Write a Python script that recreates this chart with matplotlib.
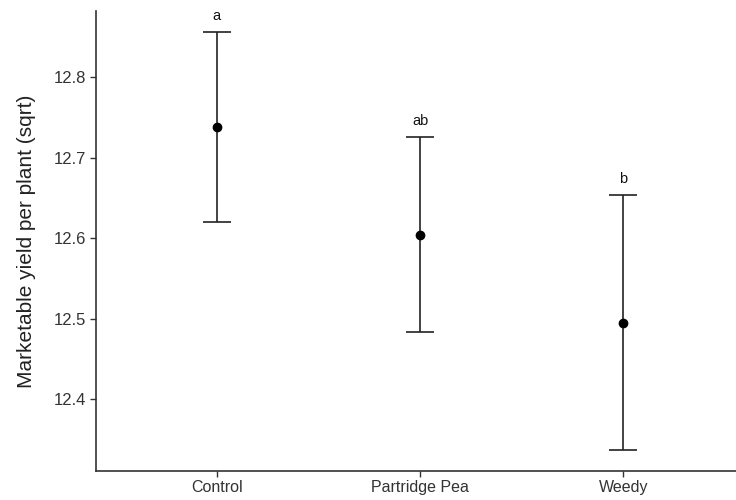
import matplotlib
matplotlib.use("Agg")
from matplotlib import pyplot as plt

# values
treatments = ["Control", "Partridge Pea", "Weedy"]
means = [12.738, 12.604, 12.494]
upper = [12.856, 12.725, 12.654]
lower = [12.620, 12.483, 12.337]
letters = ["a", "ab", "b"]

plt.rcParams['font.family'] = ['Liberation Sans', 'DejaVu Sans']

fig = plt.figure(figsize=(7.36, 5.0), dpi=100)
ax = fig.add_axes([96 / 736, 29.3 / 500, 1 - 96 / 736, (470.7 - 11) / 500])

x = list(range(len(treatments)))
err_lo = [m - l for m, l in zip(means, lower)]
err_hi = [u - m for m, u in zip(means, upper)]
ax.errorbar(x, means, yerr=[err_lo, err_hi], fmt='o', color='black',
            ecolor='#222222', elinewidth=1.2, capsize=10, capthick=1.2,
            markersize=6)

for xi, u, lab in zip(x, upper, letters):
    ax.annotate(lab, (xi, u), xytext=(0, 6.5), textcoords='offset points',
                ha='center', va='bottom', fontsize=10.5, color='#111111')

ax.set_xlim(-0.595, 2.555)
ax.set_ylim(12.311, 12.882)
ax.set_xticks(x)
ax.set_xticklabels(treatments)
ax.set_yticks([12.4, 12.5, 12.6, 12.7, 12.8])
ax.set_ylabel('Marketable yield per plant (sqrt)', fontsize=15, color='#222222', labelpad=13)

for side in ['top', 'right']:
    ax.spines[side].set_visible(False)
for side in ['left', 'bottom']:
    ax.spines[side].set_color('#333333')
    ax.spines[side].set_linewidth(1.2)
ax.tick_params(axis='both', length=4, width=1.0, color='#333333',
               labelcolor='#333333', pad=3)
ax.tick_params(axis='x', labelsize=11.5)
ax.tick_params(axis='y', labelsize=12)

fig.savefig('out.png', dpi=100)
